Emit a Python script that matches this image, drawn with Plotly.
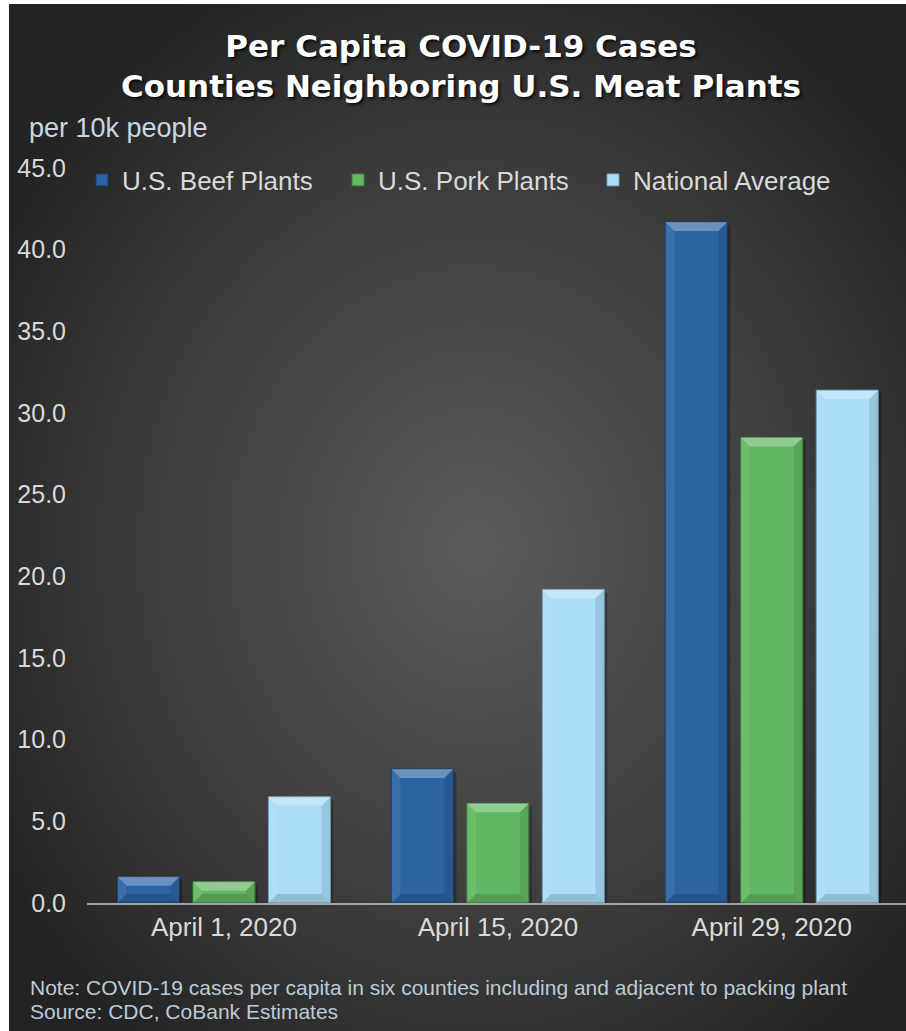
import base64
import plotly.graph_objects as go

# ---- data -------------------------------------------------------------
categories = ["April 1, 2020", "April 15, 2020", "April 29, 2020"]
series_names = ["U.S. Beef Plants", "U.S. Pork Plants", "National Average"]
beef = [1.6, 8.2, 41.7]
pork = [1.3, 6.1, 28.5]
national = [6.5, 19.2, 31.4]
y_tick_values = [0, 5, 10, 15, 20, 25, 30, 35, 40, 45]

# ---- geometry ---------------------------------------------------------
W, H = 906, 1031
L, R, T, B = 87, 0, 168, 128
PW, PH = W - L - R, H - T - B
X_RANGE = [-0.5, 2.49]
Y_RANGE = [0, 45]
PX_PER_X = PW / (X_RANGE[1] - X_RANGE[0])
PX_PER_Y = PH / (Y_RANGE[1] - Y_RANGE[0])

SLOT = 0.2755        # spacing between bar centres inside a group (x units)
BAR_W = 0.2263       # bar width (x units)
BEVEL_PX = 9
LEGEND_LEFT_PX = [82, 338, 593]   # left edge of each legend entry


def px_x(px):
    return (px - L) / PW


def px_y(py):
    return (H - B - py) / PH


# ---- background: dark radial gradient ---------------------------------
svg = (
    "<svg xmlns='http://www.w3.org/2000/svg' width='897' height='1027' "
    "preserveAspectRatio='none' viewBox='0 0 897 1027'>"
    "<defs><radialGradient id='g' cx='0.52' cy='0.53' r='0.62'>"
    "<stop offset='0' stop-color='#5b5b5b'/>"
    "<stop offset='0.55' stop-color='#3f3f3f'/>"
    "<stop offset='1' stop-color='#232323'/>"
    "</radialGradient></defs>"
    "<rect x='0' y='0' width='897' height='1027' fill='url(#g)'/></svg>"
)
bg_src = "data:image/svg+xml;base64," + base64.b64encode(svg.encode()).decode()

# ---- bars -------------------------------------------------------------
x_idx = list(range(len(categories)))
styles = [
    dict(color="#2c64a3", line="#173d69"),
    dict(color="#62b862", line="#3f7f3f"),
    dict(color="#a9ddf8", line="#6d9cba"),
]
values = [beef, pork, national]
legend_ids = ["legend", "legend2", "legend3"]

fig = go.Figure()
shapes = []
for i, (name, vals, st) in enumerate(zip(series_names, values, styles)):
    offset = (i - 1) * SLOT - BAR_W / 2
    fig.add_trace(go.Bar(
        name=name, x=x_idx, y=vals, width=BAR_W, offset=offset,
        legend=legend_ids[i],
        marker=dict(color=st["color"], line=dict(color=st["line"], width=1)),
    ))
    dx = BEVEL_PX / PX_PER_X
    dy = BEVEL_PX / PX_PER_Y
    for xc, v in zip(x_idx, vals):
        x0 = xc + offset
        x1 = x0 + BAR_W
        # soft drop shadow
        sx = 3 / PX_PER_X
        sy = 3 / PX_PER_Y
        shapes.append(dict(type="rect", xref="x", yref="y", layer="below",
                           x0=x0 + sx, x1=x1 + sx, y0=0, y1=v - sy,
                           fillcolor="rgba(0,0,0,0.28)", line=dict(width=0)))
        # bevel facets: top highlight, sides, bottom shade
        facets = [
            ([(x0, v), (x1, v), (x1 - dx, v - dy), (x0 + dx, v - dy)], "rgba(255,255,255,0.30)"),
            ([(x0, v), (x0 + dx, v - dy), (x0 + dx, dy), (x0, 0)], "rgba(255,255,255,0.07)"),
            ([(x1, v), (x1 - dx, v - dy), (x1 - dx, dy), (x1, 0)], "rgba(0,0,0,0.10)"),
            ([(x0, 0), (x0 + dx, dy), (x1 - dx, dy), (x1, 0)], "rgba(0,0,0,0.14)"),
        ]
        for pts, fc in facets:
            path = "M " + " L ".join(f"{px},{py}" for px, py in pts) + " Z"
            shapes.append(dict(type="path", xref="x", yref="y", path=path,
                               fillcolor=fc, line=dict(width=0)))

# ---- text annotations -------------------------------------------------
note_font = dict(family="Liberation Sans", size=21, color="#bccbd8")
annotations = [
    dict(text="Per Capita COVID-19 Cases<br>Counties Neighboring U.S. Meat Plants",
         xref="paper", yref="paper", x=px_x(461), y=px_y(26),
         xanchor="center", yanchor="top", showarrow=False, align="center",
         font=dict(family="DejaVu Sans", size=31, color="#ffffff", weight=700,
                   shadow="2px 2px 3px rgba(0,0,0,0.75)")),
    dict(text="per 10k people", xref="paper", yref="paper",
         x=px_x(27), y=px_y(128), xanchor="left", yanchor="middle",
         showarrow=False, font=dict(family="Liberation Sans", size=27, color="#c9d6e2")),
    dict(text="Note: COVID-19 cases per capita in six counties including and adjacent to packing plant",
         xref="paper", yref="paper", x=px_x(28), y=px_y(987),
         xanchor="left", yanchor="middle", showarrow=False, font=note_font),
    dict(text="Source: CDC, CoBank Estimates",
         xref="paper", yref="paper", x=px_x(28), y=px_y(1011),
         xanchor="left", yanchor="middle", showarrow=False, font=note_font),
]

legend_common = dict(orientation="h", yanchor="middle", xanchor="left",
                     y=px_y(180), bgcolor="rgba(0,0,0,0)",
                     font=dict(family="Liberation Sans", size=26, color="#d9d9d9"),
                     itemclick=False, itemdoubleclick=False)

fig.update_layout(
    width=W, height=H,
    margin=dict(l=L, r=R, t=T, b=B, autoexpand=False),
    paper_bgcolor="#ffffff",
    plot_bgcolor="rgba(0,0,0,0)",
    barmode="group",
    showlegend=True,
    legend=dict(x=px_x(LEGEND_LEFT_PX[0]), **legend_common),
    legend2=dict(x=px_x(LEGEND_LEFT_PX[1]), **legend_common),
    legend3=dict(x=px_x(LEGEND_LEFT_PX[2]), **legend_common),
    images=[dict(source=bg_src, xref="paper", yref="paper",
                 x=px_x(9), y=px_y(4), sizex=897 / PW, sizey=1027 / PH,
                 xanchor="left", yanchor="top", sizing="stretch", layer="below")],
    shapes=shapes,
    annotations=annotations,
    xaxis=dict(range=X_RANGE, tickvals=x_idx, ticktext=categories,
               showgrid=False, zeroline=False, showline=True,
               linecolor="#a3a3a3", linewidth=2, ticks="",
               tickfont=dict(family="Liberation Sans", size=26, color="#d9d9d9"),
               fixedrange=True),
    yaxis=dict(range=Y_RANGE, tickvals=y_tick_values, tickformat=".1f",
               showgrid=False, zeroline=False, showline=False, ticks="",
               ticklabelstandoff=20,
               tickfont=dict(family="Liberation Sans", size=25, color="#d9d9d9"),
               fixedrange=True),
    hovermode=False,
)

fig.write_html("out.html")
